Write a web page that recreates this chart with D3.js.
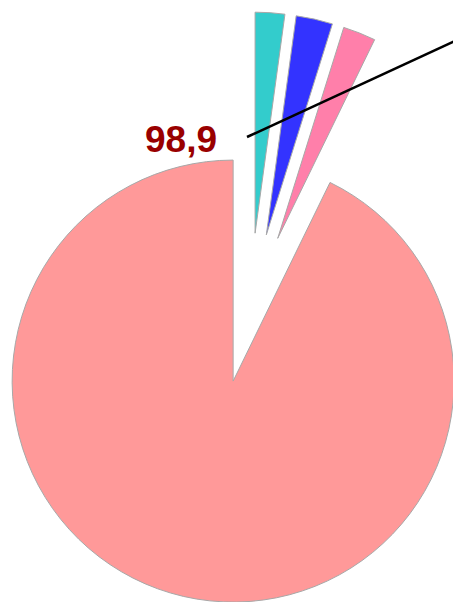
<!DOCTYPE html>
<html>
<head>
<meta charset="utf-8">
<script src="https://cdn.jsdelivr.net/npm/d3@7"></script>
<style>
  html, body { margin: 0; padding: 0; background: #ffffff; }
  svg { display: block; }
</style>
</head>
<body>
<svg id="chart" width="453" height="602"></svg>
<script>
// Data (order as drawn clockwise from 12 o'clock)
const categories = ["A", "B", "C", "D"];
const values = [2.3, 2.85, 2.55, 98.9];
const colors = ["#33CCCC", "#3333FF", "#FF7FAA", "#FF9999"];
const labelText = "98,9";

const W = 453, H = 602;
const cx = 250, cy = 308, radius = 221, explode = 75;

const svg = d3.select("#chart");
const pie = d3.pie().sort(null).value(d => d.value).startAngle(0).endAngle(2 * Math.PI);
const arc = d3.arc().innerRadius(0).outerRadius(radius);

const data = categories.map((c, i) => ({ cat: c, value: values[i], color: colors[i] }));
const arcs = pie(data);

const g = svg.append("g").attr("transform", `translate(${cx},${cy})`);

g.selectAll("path.slice")
  .data(arcs)
  .join("path")
  .attr("class", "slice")
  .attr("d", arc)
  .attr("fill", d => d.data.color)
  .attr("stroke", "#a8a8a8")
  .attr("stroke-width", 1)
  .attr("stroke-linejoin", "round")
  .attr("transform", d => {
    const mid = (d.startAngle + d.endAngle) / 2;
    return `translate(${explode * Math.sin(mid)},${-explode * Math.cos(mid)})`;
  });

// Label for the big slice and its leader line
svg.append("line")
  .attr("x1", 247).attr("y1", 137)
  .attr("x2", 470).attr("y2", 34)
  .attr("stroke", "#000")
  .attr("stroke-width", 2.5);

svg.append("text")
  .attr("x", 217).attr("y", 152)
  .attr("text-anchor", "end")
  .attr("font-family", "'Liberation Sans', Arial, sans-serif")
  .attr("font-weight", "bold")
  .attr("font-size", 37)
  .attr("fill", "#990000")
  .text(labelText);
</script>
</body>
</html>
